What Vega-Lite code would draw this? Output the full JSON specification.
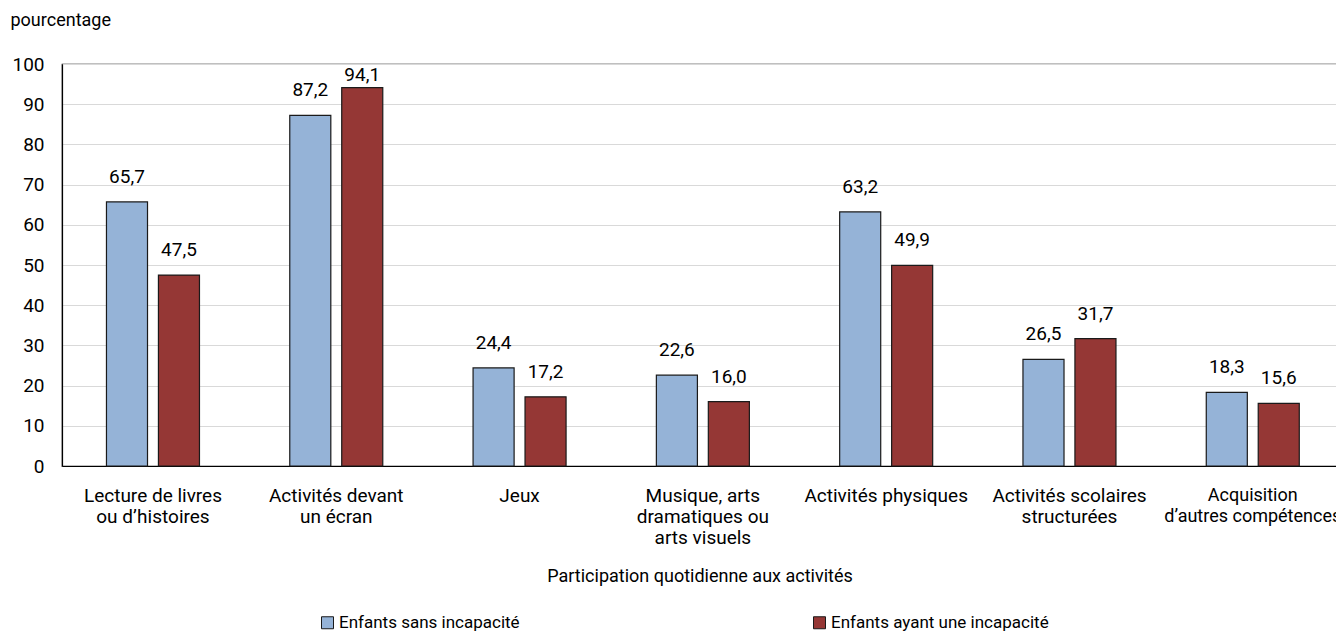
{
  "$schema": "https://vega.github.io/schema/vega-lite/v6.json",
  "autosize": "none",
  "width": 1275,
  "height": 402,
  "padding": {"left": 62, "top": 64, "right": 0, "bottom": 165},
  "config": {
    "font": "Roboto, sans-serif",
    "locale": {"number": {"decimal": ",", "thousands": " ", "grouping": [3], "currency": ["", " $"]}},
    "view": {"stroke": "#000000", "strokeWidth": 1.2},
    "axis": {"labelFontSize": 19, "titleFontSize": 18, "labelColor": "#000000", "titleColor": "#000000", "titleFontWeight": "normal"}
  },
  "data": {
    "values": [
      {"activite": "Lecture de livres|ou d’histoires", "groupe": "Enfants sans incapacité", "valeur": 65.7},
      {"activite": "Lecture de livres|ou d’histoires", "groupe": "Enfants ayant une incapacité", "valeur": 47.5},
      {"activite": "Activités devant|un écran", "groupe": "Enfants sans incapacité", "valeur": 87.2},
      {"activite": "Activités devant|un écran", "groupe": "Enfants ayant une incapacité", "valeur": 94.1},
      {"activite": "Jeux", "groupe": "Enfants sans incapacité", "valeur": 24.4},
      {"activite": "Jeux", "groupe": "Enfants ayant une incapacité", "valeur": 17.2},
      {"activite": "Musique, arts|dramatiques ou|arts visuels", "groupe": "Enfants sans incapacité", "valeur": 22.6},
      {"activite": "Musique, arts|dramatiques ou|arts visuels", "groupe": "Enfants ayant une incapacité", "valeur": 16.0},
      {"activite": "Activités physiques", "groupe": "Enfants sans incapacité", "valeur": 63.2},
      {"activite": "Activités physiques", "groupe": "Enfants ayant une incapacité", "valeur": 49.9},
      {"activite": "Activités scolaires|structurées", "groupe": "Enfants sans incapacité", "valeur": 26.5},
      {"activite": "Activités scolaires|structurées", "groupe": "Enfants ayant une incapacité", "valeur": 31.7},
      {"activite": "Acquisition|d’autres compétences", "groupe": "Enfants sans incapacité", "valeur": 18.3},
      {"activite": "Acquisition|d’autres compétences", "groupe": "Enfants ayant une incapacité", "valeur": 15.6}
    ]
  },
  "encoding": {
    "x": {
      "field": "activite", "type": "nominal", "sort": null,
      "scale": {"paddingInner": 0.4926, "paddingOuter": 0.2242, "align": 0.541},
      "axis": {
        "title": "Participation quotidienne aux activités",
        "labelAngle": 0, "labelExpr": "split(datum.label, '|')", "labelLineHeight": 21,
        "labelBaseline": "top", "labelPadding": 20, "ticks": false,
        "labelFontSize": {"condition": {"test": "indexof(datum.label, 'Acquisition') === 0", "value": 18}, "value": 19},
        "domainColor": "#000000", "domainWidth": 1.2, "titlePadding": 20, "labelLimit": 300
      }
    },
    "xOffset": {"field": "groupe", "type": "nominal", "sort": ["Enfants sans incapacité", "Enfants ayant une incapacité"], "scale": {"paddingInner": 0.21}},
    "y": {
      "field": "valeur", "type": "quantitative",
      "scale": {"domain": [0, 100]},
      "axis": {
        "title": "pourcentage", "titleAngle": 0, "titleX": -52, "titleY": -44,
        "titleAlign": "left", "titleBaseline": "middle",
        "values": [0, 10, 20, 30, 40, 50, 60, 70, 80, 90, 100],
        "ticks": false, "labelPadding": 18, "domainColor": "#000000", "domainWidth": 1.2,
        "gridColor": "#d9d9d9", "gridWidth": 1
      }
    }
  },
  "layer": [
    {
      "mark": {"type": "bar", "stroke": "#1a1a1a", "strokeWidth": 1.2},
      "encoding": {
        "color": {
          "field": "groupe", "type": "nominal",
          "sort": ["Enfants sans incapacité", "Enfants ayant une incapacité"],
          "scale": {"domain": ["Enfants sans incapacité", "Enfants ayant une incapacité"], "range": ["#95b3d7", "#953735"]},
          "legend": {
            "title": null, "orient": "none", "legendX": 257, "legendY": 550, "direction": "horizontal", "columns": 2,
            "symbolType": "square", "symbolSize": 144, "symbolStrokeColor": "#1a1a1a", "symbolStrokeWidth": 1,
            "labelFontSize": 17, "labelColor": "#000000", "labelOffset": 3, "labelLimit": 400, "columnPadding": 291
          }
        }
      }
    },
    {
      "transform": [{"filter": "datum.valeur < 90"}],
      "mark": {"type": "text", "baseline": "middle", "dy": -25, "fontSize": 19, "color": "#000000"},
      "encoding": {
        "text": {"field": "valeur", "type": "quantitative", "format": ".1f"}
      }
    },
    {
      "transform": [{"filter": "datum.valeur >= 90"}],
      "mark": {"type": "text", "baseline": "middle", "dy": -13, "fontSize": 19, "color": "#000000"},
      "encoding": {
        "text": {"field": "valeur", "type": "quantitative", "format": ".1f"}
      }
    }
  ]
}
